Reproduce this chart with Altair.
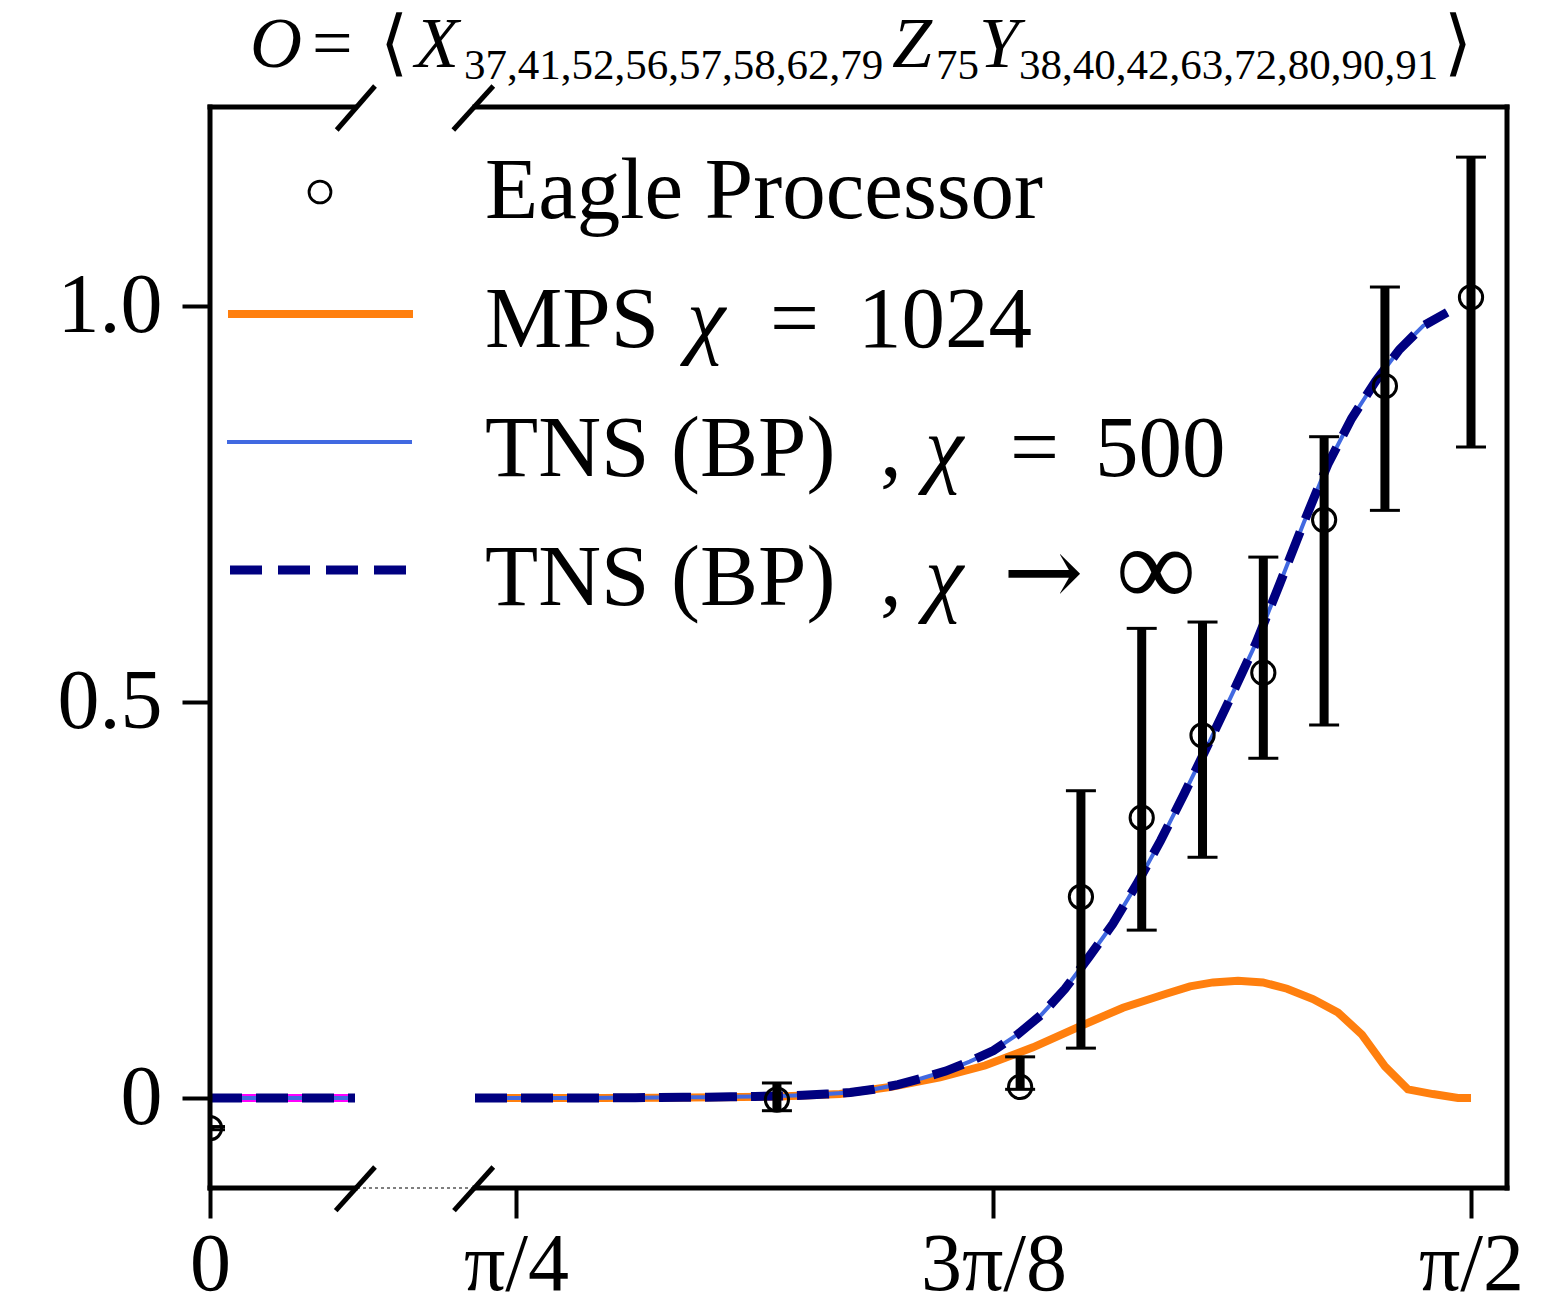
import math
import altair as alt
import pandas as pd

# ---------------- data ----------------
eagle_x = [0.0, 1.0, 1.2, 1.25, 1.3, 1.35, 1.4, 1.45, 1.5, 1.5708]
eagle_y = [-0.038, -0.002, 0.014, 0.254, 0.354, 0.458, 0.537, 0.730, 0.899, 1.011]
eagle_lo = [-0.040, -0.016, 0.011, 0.063, 0.212, 0.304, 0.429, 0.471, 0.742, 0.822]
eagle_hi = [-0.036, 0.019, 0.052, 0.388, 0.593, 0.601, 0.683, 0.835, 1.024, 1.188]

tns_x = [0.7517, 0.7658, 0.7854, 0.8050, 0.8247, 0.8443, 0.8639, 0.8836, 0.9032,
         0.9228, 0.9425, 0.9621, 0.9817, 1.0014, 1.0210, 1.0407, 1.0603, 1.0799,
         1.0996, 1.1192, 1.1388, 1.1585, 1.1781, 1.1977, 1.2174, 1.2370, 1.2566,
         1.2763, 1.2959, 1.3155, 1.3352, 1.3548, 1.3744, 1.3941, 1.4137, 1.4334,
         1.4530, 1.4726, 1.4923, 1.5119, 1.5315, 1.5512]
tns_inf_y = [0.0, 0.0, 0.0, 0.0, 0.0, 0.0, 0.0003, 0.0005, 0.0007, 0.001, 0.001,
             0.0015, 0.002, 0.0025, 0.0035, 0.005, 0.007, 0.011, 0.017, 0.025,
             0.034, 0.046, 0.060, 0.080, 0.105, 0.138, 0.178, 0.220, 0.270, 0.325,
             0.385, 0.447, 0.510, 0.575, 0.650, 0.727, 0.800, 0.858, 0.905, 0.945,
             0.975, 0.992]
tns_500_y = [0.0, 0.0, 0.0, 0.0, 0.0, 0.0, 0.0003, 0.0005, 0.0007, 0.001, 0.001,
             0.0015, 0.002, 0.0025, 0.0035, 0.005, 0.007, 0.011, 0.017, 0.025,
             0.034, 0.046, 0.060, 0.080, 0.105, 0.138, 0.178, 0.220, 0.270, 0.325,
             0.385, 0.447, 0.510, 0.575, 0.650, 0.727, 0.800, 0.858, 0.905, 0.945,
             0.975, 0.992]

mps_x = [0.7517, 0.8051, 0.8545, 0.9038, 0.9532, 1.0025, 1.0518, 1.0930, 1.1341,
         1.1711, 1.2106, 1.2468, 1.2846, 1.3208, 1.3397, 1.3586, 1.3792, 1.3997,
         1.4195, 1.4408, 1.4614, 1.4811, 1.5000, 1.5189, 1.5395, 1.5601, 1.5708]
mps_y = [0.0, 0.0, 0.0, 0.0005, 0.001, 0.002, 0.005, 0.014, 0.026, 0.041, 0.064,
         0.089, 0.114, 0.132, 0.141, 0.146, 0.148, 0.146, 0.138, 0.125, 0.108,
         0.080, 0.040, 0.011, 0.005, 0.0, 0.0]

left_x = [0.0, 0.12]
left_y = [0.0, 0.0]

x_tick_values = [0.0, math.pi / 4, 3 * math.pi / 8, math.pi / 2]
y_tick_values = [0.0, 0.5, 1.0]

title_main = ["O", "=", "⟨", "X", "Z", "Y", "⟩"]
title_sub = ["37,41,52,56,57,58,62,79", "75", "38,40,42,63,72,80,90,91"]

# ---------------- layout ----------------
W, H = 1297, 1081
SERIF = "Liberation Serif"
ORANGE = "#ff7f0e"
BLUE = "#4169e1"
NAVY = "#000080"
MAGENTA = "#ff00ff"

xscale = alt.Scale(domain=[0, 0.12, 0.7517, 1.6004], range=[0, 145, 265, W],
                   nice=False, zero=False)
yscale = alt.Scale(domain=[-0.1136, 1.2513], nice=False, zero=False)

xaxis = alt.Axis(values=x_tick_values,
                 labelExpr="datum.value < 0.1 ? '0' : datum.value < 1 ? 'π/4' : datum.value < 1.3 ? '3π/8' : 'π/2'",
                 domain=False, grid=False, tickSize=30, tickWidth=4, tickColor="black",
                 labelFont=SERIF, labelFontSize=82, labelColor="black", labelPadding=6,
                 labelFlush=False, labelOverlap=False, title=None)
yaxis = alt.Axis(values=y_tick_values,
                 labelExpr="datum.value == 0 ? '0' : format(datum.value, '.1f')",
                 domain=False, grid=False, tickSize=28, tickWidth=4, tickColor="black",
                 labelFont=SERIF, labelFontSize=84, labelColor="black", labelPadding=20,
                 labelFlush=False, labelOverlap=False, title=None)

X = alt.X("x:Q", scale=xscale, axis=xaxis)
Y = alt.Y("y:Q", scale=yscale, axis=yaxis)

def line_df(xs, ys):
    return pd.DataFrame({"x": xs, "y": ys})

eagle = pd.DataFrame({"x": eagle_x, "y": eagle_y, "lo": eagle_lo, "hi": eagle_hi})
dummy = pd.DataFrame({"d": [0]})

layers = []
# left segment lines
layers.append(alt.Chart(line_df(left_x, left_y)).mark_line(color=MAGENTA, strokeWidth=8, clip=True).encode(x=X, y=Y))
layers.append(alt.Chart(line_df(left_x, left_y)).mark_line(color=BLUE, strokeWidth=4, clip=True).encode(x=X, y=Y))
layers.append(alt.Chart(line_df(left_x, left_y)).mark_line(color=NAVY, strokeWidth=9, strokeDash=[32, 14], strokeCap="butt", clip=True).encode(x=X, y=Y))
# right segment lines
layers.append(alt.Chart(line_df(mps_x, mps_y)).mark_line(color=ORANGE, strokeWidth=8, clip=True).encode(x=X, y=Y))
layers.append(alt.Chart(line_df(tns_x, tns_500_y)).mark_line(color=BLUE, strokeWidth=4, clip=True).encode(x=X, y=Y))
layers.append(alt.Chart(line_df(tns_x, tns_inf_y)).mark_line(color=NAVY, strokeWidth=9, strokeDash=[32, 14], strokeCap="butt", clip=True).encode(x=X, y=Y))
# error bars
layers.append(alt.Chart(eagle).mark_rule(color="black", strokeWidth=9, clip=True).encode(
    x=X, y=alt.Y("lo:Q", scale=yscale, axis=yaxis), y2="hi:Q"))
layers.append(alt.Chart(eagle).mark_tick(color="black", orient="horizontal", size=30, thickness=3, clip=True, opacity=1).encode(
    x=X, y=alt.Y("lo:Q", scale=yscale, axis=yaxis)))
layers.append(alt.Chart(eagle).mark_tick(color="black", orient="horizontal", size=30, thickness=3, clip=True, opacity=1).encode(
    x=X, y=alt.Y("hi:Q", scale=yscale, axis=yaxis)))
layers.append(alt.Chart(eagle).mark_point(shape="circle", filled=False, size=540, strokeWidth=3,
                                          color="black", opacity=1, clip=True).encode(x=X, y=Y))

def seg(x1, y1, x2, y2, width=5, color="black", dash=None, cap="square"):
    props = dict(color=color, strokeWidth=width, strokeCap=cap)
    if dash is not None:
        props["strokeDash"] = dash
    return alt.Chart(dummy).mark_rule(**props).encode(
        x=alt.value(x1), y=alt.value(y1), x2=alt.value(x2), y2=alt.value(y2))

def txt(s, x, y, size, italic=False, font=SERIF):
    props = dict(text=s, align="left", baseline="alphabetic", font=font, fontSize=size,
                 color="black")
    if italic:
        props["fontStyle"] = "italic"
    return alt.Chart(dummy).mark_text(**props).encode(x=alt.value(x), y=alt.value(y))

# frame with broken x axis
layers += [
    seg(0, 0, 145, 0), seg(265, 0, W, 0),
    seg(0, H, 145, H), seg(265, H, W, H),
    seg(0, 0, 0, H), seg(W, 0, W, H),
    seg(126.7, 23, 165, -21, cap="butt"), seg(243.3, 23, 283.3, -21, cap="butt"),
    seg(125.7, H + 22.7, 165, H - 21, cap="butt"), seg(244, H + 22.7, 283.3, H - 21, cap="butt"),
    seg(147, H, 263, H, width=1.2, dash=[3, 3], cap="butt"),
]

# legend (manual, matplotlib style)
layers.append(alt.Chart(dummy).mark_point(shape="circle", filled=False, size=480, strokeWidth=2.8,
                                          color="black", opacity=1).encode(x=alt.value(110), y=alt.value(85)))
layers.append(seg(18, 207, 203, 207, width=8, color=ORANGE, cap="butt"))
layers.append(seg(17, 335, 202, 335, width=4, color=BLUE, cap="butt"))
layers.append(seg(20, 463, 196, 463, width=9, color=NAVY, dash=[32, 16], cap="butt"))

LF = 87
layers += [
    txt("Eagle Processor", 275, 111, LF),
    txt("MPS", 275, 240, LF), txt("χ", 477, 240, LF, italic=True),
    txt("=", 560, 240, LF), txt("1024", 648, 240, LF),
    txt("TNS (BP)", 275, 369, LF), txt(",", 670, 369, LF), txt("χ", 715, 369, LF, italic=True),
    txt("=", 800, 369, LF), txt("500", 885, 369, LF),
    txt("TNS (BP)", 275, 498, LF), txt(",", 670, 498, LF), txt("χ", 715, 498, LF, italic=True),
    txt("→", 793, 498, 96, font="DejaVu Serif"), txt("∞", 906, 498, 112),
]

# title O = <X_... Z_75 Y_...>
TM, TS = 72, 43
layers += [
    txt(title_main[0], 40, -40, TM, italic=True),
    txt(title_main[1], 102, -40, TM),
    txt(title_main[2], 170, -40, TM),
    txt(title_main[3], 205, -40, TM, italic=True),
    txt(title_sub[0], 254, -28, TS),
    txt(title_main[4], 682, -40, TM, italic=True),
    txt(title_sub[1], 726, -28, TS),
    txt(title_main[5], 769, -40, TM, italic=True),
    txt(title_sub[2], 809, -28, TS),
    txt(title_main[6], 1234, -40, TM),
]

chart = alt.layer(*layers).properties(
    width=W, height=H,
    autosize=alt.AutoSizeParams(type="none"),
    padding={"left": 210, "top": 107, "right": 51, "bottom": 126},
).configure_view(stroke="transparent")

chart.save("out.html", embed_options={"renderer": "svg", "actions": False})
